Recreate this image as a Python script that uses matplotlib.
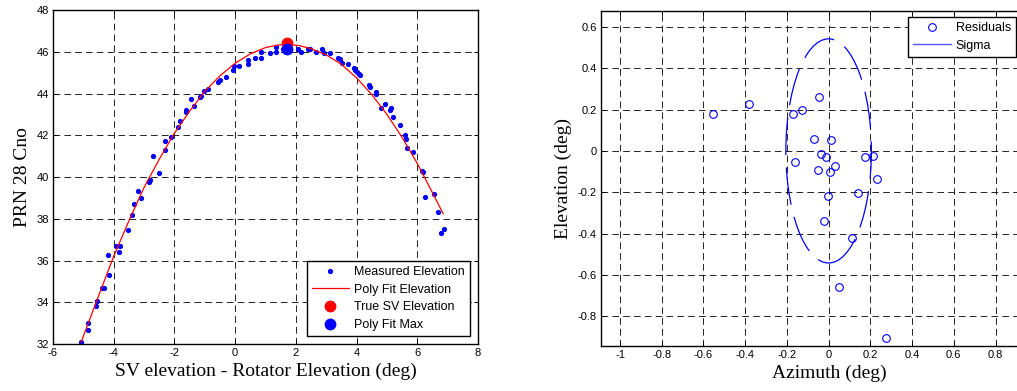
import matplotlib
matplotlib.use('Agg')
import matplotlib.pyplot as plt
from matplotlib.patches import Ellipse
from matplotlib.lines import Line2D

# left panel: measured Cno vs elevation offset
meas_x = [-5.07, -4.86, -4.86, -4.56, -4.57, -4.37, -4.33, -4.16, -4.18, -3.91,
          -3.78, -3.84, -3.54, -3.41, -3.32, -3.21, -3.11, -2.83, -2.80, -2.69,
          -2.50, -2.31, -2.31, -2.11, -1.89, -1.83, -1.63, -1.61, -1.44, -1.37,
          -1.17, -1.12, -1.01, -0.89, -0.56, -0.51, -0.29, -0.07, -0.03, 0.13,
          0.42, 0.42, 0.65, 0.84, 0.86, 1.16, 1.36, 1.36, 1.58, 2.18,
          2.07, 2.40, 2.45, 2.67, 2.85, 2.92, 3.11, 3.40, 3.44, 3.53,
          3.73, 3.90, 3.94, 4.01, 4.08, 4.10, 4.41, 4.43, 4.63, 4.63,
          4.82, 4.95, 5.11, 5.13, 5.20, 5.42, 5.60, 5.64, 5.67, 5.86,
          6.17, 6.19, 6.27, 6.55, 6.69, 6.79, 6.88]
meas_y = [32.11, 33.00, 32.67, 34.08, 33.80, 34.68, 34.68, 35.29, 36.26, 36.70,
          36.70, 36.41, 37.48, 38.18, 38.71, 39.31, 38.98, 39.78, 39.86, 41.00,
          40.21, 41.29, 41.71, 41.90, 42.41, 42.70, 43.21, 43.11, 43.72, 43.39,
          43.82, 43.88, 44.12, 44.20, 44.55, 44.65, 44.81, 45.13, 45.32, 45.32,
          45.40, 45.60, 45.68, 45.68, 46.00, 45.92, 46.00, 46.21, 46.12, 46.00,
          46.12, 46.12, 46.12, 46.00, 46.12, 45.92, 45.92, 45.68, 45.64, 45.48,
          45.40, 45.20, 45.15, 45.04, 44.93, 44.87, 44.41, 44.30, 44.08, 44.00,
          43.29, 43.48, 43.21, 43.29, 42.89, 42.49, 42.00, 41.80, 41.37, 41.20,
          40.29, 40.22, 39.06, 39.19, 38.30, 37.30, 37.49]

fit_x = [-5.07, -4.5, -4.0, -3.5, -3.0, -2.5, -2.0, -1.5, -1.0, -0.5, 0.0, 0.5,
         1.0, 1.4, 1.71, 2.1, 2.5, 3.0, 3.5, 4.0, 4.5, 5.0, 5.5, 6.0, 6.5, 6.85]
fit_y = [32.1, 34.3, 36.2, 37.9, 39.5, 40.85, 42.1, 43.15, 44.1, 44.85, 45.45, 45.9,
         46.2, 46.32, 46.35, 46.3, 46.15, 45.85, 45.4, 44.75, 43.95, 43.0, 41.9,
         40.65, 39.25, 38.25]

true_sv = (1.71, 46.40)
fit_max = (1.71, 46.12)

# right panel: residuals
res_az = [-0.554, -0.382, -0.169, -0.130, -0.047, -0.071, 0.011, -0.037, -0.013, 0.029,
          -0.051, 0.008, -0.161, 0.176, 0.215, 0.232, 0.142, -0.003, -0.020, 0.112,
          0.048, 0.275]
res_el = [0.177, 0.229, 0.177, 0.196, 0.263, 0.058, 0.053, -0.013, -0.028, -0.075,
          -0.094, -0.101, -0.052, -0.031, -0.026, -0.136, -0.204, -0.219, -0.340, -0.422,
          -0.661, -0.907]
sigma_az = 0.205
sigma_el = 0.543

left_xticks = [-6, -4, -2, 0, 2, 4, 6, 8]
left_yticks = [32, 34, 36, 38, 40, 42, 44, 46, 48]
right_xticks = [-1, -0.8, -0.6, -0.4, -0.2, 0, 0.2, 0.4, 0.6, 0.8]
right_xlabels = ['-1', '-0.8', '-0.6', '-0.4', '-0.2', '0', '0.2', '0.4', '0.6', '0.8']
right_yticks = [-0.8, -0.6, -0.4, -0.2, 0, 0.2, 0.4, 0.6]
right_ylabels = ['-0.8', '-0.6', '-0.4', '-0.2', '0', '0.2', '0.4', '0.6']

plt.rcParams['font.family'] = ['Liberation Sans', 'DejaVu Sans']
plt.rcParams['axes.unicode_minus'] = False
serif = 'Liberation Serif'

fig = plt.figure(figsize=(10.17, 3.91), dpi=100)


def style_axes(ax):
    ax.set_axisbelow(True)
    ax.grid(True, color='black', linestyle=(0, (8, 5)), linewidth=0.6)
    ax.tick_params(direction='in', top=True, right=True, length=3, width=0.7,
                   labelsize=8, pad=3)
    for s in ax.spines.values():
        s.set_linewidth(1.0)


ax1 = fig.add_axes([0.0521, 0.1202, 0.4179, 0.8542])
ax1.plot(meas_x, meas_y, '.', color='blue', markersize=5.5, label='Measured Elevation')
ax1.plot(fit_x, fit_y, '-', color='red', linewidth=0.9, label='Poly Fit Elevation')
ax1.plot([true_sv[0]], [true_sv[1]], 'o', color='red', markersize=7.5, label='True SV Elevation')
ax1.plot([fit_max[0]], [fit_max[1]], 'o', color='blue', markersize=7.5, label='Poly Fit Max')
ax1.set_xlim(-6, 8)
ax1.set_ylim(32, 48)
ax1.set_xticks(left_xticks)
ax1.set_yticks(left_yticks)
style_axes(ax1)
ax1.set_xlabel('SV elevation - Rotator Elevation (deg)', family=serif, fontsize=14, labelpad=3)
ax1.set_ylabel('PRN 28 Cno', family=serif, fontsize=14, labelpad=4)
leg1 = ax1.legend(loc='lower right', bbox_to_anchor=(0.981, 0.024), borderaxespad=0,
                  fontsize=9, fancybox=False, framealpha=1, edgecolor='black',
                  handlelength=3.0, handletextpad=0.4, labelspacing=0.45, borderpad=0.4)
leg1.get_frame().set_linewidth(1.0)

ax2 = fig.add_axes([0.5910, 0.1151, 0.4494, 0.8568])
ax2.plot(res_az, res_el, 'o', markerfacecolor='none', markeredgecolor='blue',
         markersize=5.5, markeredgewidth=0.8)
ax2.add_patch(Ellipse((0, 0), 2 * sigma_az, 2 * sigma_el, fill=False, edgecolor='blue',
                      linewidth=0.9, linestyle=(0, (30, 10))))
ax2.set_xlim(-1.091, 1.1)
ax2.set_ylim(-0.945, 0.678)
ax2.set_xticks(right_xticks)
ax2.set_xticklabels(right_xlabels)
ax2.set_yticks(right_yticks)
ax2.set_yticklabels(right_ylabels)
style_axes(ax2)
ax2.set_xlabel('Azimuth (deg)', family=serif, fontsize=14, labelpad=3)
ax2.set_ylabel('Elevation (deg)', family=serif, fontsize=14, labelpad=4)
handles = [Line2D([], [], linestyle='none', marker='o', markerfacecolor='none',
                  markeredgecolor='blue', markersize=5.5, markeredgewidth=0.8),
           Line2D([], [], color='#5555ff', linewidth=1.0)]
leg2 = ax2.legend(handles, ['Residuals', 'Sigma'], loc='upper left',
                  bbox_to_anchor=(0.672, 0.982), borderaxespad=0, fontsize=9,
                  fancybox=False, framealpha=1, edgecolor='black', handlelength=3.0,
                  handletextpad=0.4, labelspacing=0.45, borderpad=0.4)
leg2.get_frame().set_linewidth(1.0)

fig.savefig('out.png', dpi=100)
